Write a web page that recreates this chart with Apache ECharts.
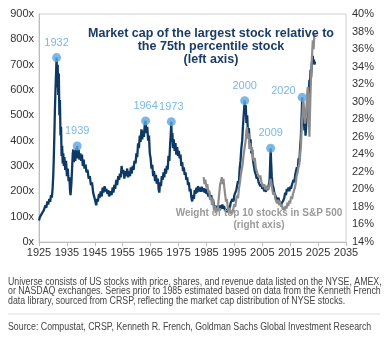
<!DOCTYPE html>
<html>
<head>
<meta charset="utf-8">
<script src="https://cdn.jsdelivr.net/npm/echarts@6/dist/echarts.min.js"></script>
<style>
  html, body { margin: 0; padding: 0; background: #fff; }
  #chart { width: 385px; height: 337px; }
</style>
</head>
<body>
<div id="chart"></div>
<script>
// market cap of largest stock / 75th percentile stock (left axis, x)
const capRatio = [
  [1925.0, 85], [1925.3, 98], [1925.6, 92], [1926.0, 112], [1926.3, 105], [1926.7, 125],
  [1927.0, 118], [1927.3, 145], [1927.6, 135], [1928.0, 160], [1928.3, 148], [1928.7, 170],
  [1929.0, 158], [1929.3, 185], [1929.6, 175], [1929.9, 215], [1930.1, 260], [1930.3, 330],
  [1930.5, 420], [1930.7, 520], [1930.9, 600], [1931.1, 660], [1931.3, 728], [1931.5, 610],
  [1931.7, 700], [1931.9, 580], [1932.1, 665], [1932.3, 500], [1932.5, 560], [1932.7, 420],
  [1932.9, 455], [1933.1, 340], [1933.3, 380], [1933.5, 310], [1933.7, 350], [1933.9, 300],
  [1934.1, 335], [1934.4, 285], [1934.7, 320], [1935.0, 260], [1935.3, 290], [1935.6, 240],
  [1935.9, 255], [1936.1, 205], [1936.3, 185], [1936.6, 230], [1936.9, 300], [1937.1, 350],
  [1937.3, 365], [1937.5, 315], [1937.8, 360], [1938.0, 320], [1938.3, 370], [1938.5, 340],
  [1938.7, 379], [1938.9, 330], [1939.2, 365], [1939.5, 325], [1939.8, 350], [1940.1, 320],
  [1940.4, 345], [1940.7, 300], [1941.0, 325], [1941.3, 290], [1941.7, 305], [1942.0, 275],
  [1942.4, 285], [1942.8, 250], [1943.2, 260], [1943.6, 225], [1944.0, 235], [1944.4, 195],
  [1944.8, 200], [1945.1, 165], [1945.5, 145], [1945.8, 170], [1946.1, 160], [1946.5, 190],
  [1946.8, 175], [1947.1, 200], [1947.5, 180], [1947.8, 215], [1948.1, 195], [1948.5, 220],
  [1948.8, 200], [1949.1, 210], [1949.5, 190], [1949.8, 205], [1950.1, 180], [1950.4, 175],
  [1950.7, 200], [1951.0, 185], [1951.4, 215], [1951.7, 195], [1952.0, 225], [1952.3, 210],
  [1952.7, 245], [1953.0, 225], [1953.4, 260], [1953.7, 245], [1954.0, 270], [1954.3, 255],
  [1954.6, 300], [1954.9, 270], [1955.2, 285], [1955.6, 250], [1955.9, 280], [1956.2, 260],
  [1956.6, 290], [1956.9, 255], [1957.2, 280], [1957.6, 260], [1957.9, 295], [1958.2, 270],
  [1958.6, 300], [1958.9, 285], [1959.2, 320], [1959.6, 310], [1959.9, 350], [1960.2, 335],
  [1960.5, 390], [1960.8, 370], [1961.1, 420], [1961.4, 395], [1961.7, 445], [1962.0, 405],
  [1962.3, 440], [1962.6, 415], [1962.9, 465], [1963.2, 478], [1963.5, 430], [1963.8, 455],
  [1964.1, 400], [1964.4, 420], [1964.7, 350], [1965.0, 330], [1965.3, 290], [1965.6, 305],
  [1965.9, 260], [1966.2, 280], [1966.6, 240], [1966.9, 265], [1967.2, 230], [1967.6, 250],
  [1967.9, 205], [1968.1, 195], [1968.4, 235], [1968.7, 220], [1969.0, 260], [1969.3, 245],
  [1969.6, 275], [1969.9, 255], [1970.2, 290], [1970.5, 270], [1970.8, 300], [1971.1, 285],
  [1971.4, 340], [1971.7, 320], [1972.0, 390], [1972.2, 420], [1972.4, 475], [1972.6, 395],
  [1972.8, 430], [1973.0, 370], [1973.3, 405], [1973.6, 360], [1973.9, 390], [1974.2, 345],
  [1974.5, 375], [1974.8, 340], [1975.1, 360], [1975.4, 330], [1975.7, 345], [1976.0, 300],
  [1976.3, 315], [1976.6, 280], [1976.9, 295], [1977.2, 265], [1977.5, 275], [1977.8, 245],
  [1978.1, 255], [1978.4, 225], [1978.7, 235], [1979.0, 200], [1979.3, 210], [1979.6, 175],
  [1979.9, 160], [1980.2, 185], [1980.5, 170], [1980.8, 205], [1981.1, 190], [1981.4, 215],
  [1981.7, 195], [1982.0, 220], [1982.3, 200], [1982.7, 215], [1983.0, 198], [1983.3, 218],
  [1983.7, 200], [1984.0, 212], [1984.3, 195], [1984.7, 210], [1985.0, 190], [1985.3, 200],
  [1985.7, 180], [1986.0, 195], [1986.3, 172], [1986.7, 185], [1987.0, 160], [1987.3, 170],
  [1987.7, 145], [1988.0, 150], [1988.3, 132], [1988.7, 142], [1989.0, 122], [1989.3, 138],
  [1989.7, 128], [1990.0, 145], [1990.3, 130], [1990.7, 148], [1991.0, 132], [1991.3, 142],
  [1991.7, 122], [1992.0, 130], [1992.3, 118], [1992.7, 128], [1993.0, 140], [1993.3, 132],
  [1993.7, 155], [1994.0, 148], [1994.3, 170], [1994.7, 160], [1995.0, 185], [1995.3, 178],
  [1995.7, 205], [1996.0, 200], [1996.3, 240], [1996.6, 230], [1996.9, 290], [1997.2, 320],
  [1997.5, 370], [1997.8, 400], [1998.1, 460], [1998.4, 510], [1998.7, 558], [1998.9, 520],
  [1999.1, 540], [1999.3, 470], [1999.6, 500], [1999.9, 420], [2000.2, 450], [2000.5, 390],
  [2000.8, 405], [2001.1, 350], [2001.4, 365], [2001.7, 320], [2002.0, 300], [2002.3, 280],
  [2002.7, 265], [2003.0, 250], [2003.3, 258], [2003.7, 235], [2004.0, 240], [2004.3, 220],
  [2004.7, 228], [2005.0, 210], [2005.3, 218], [2005.7, 200], [2006.0, 210], [2006.3, 198],
  [2006.7, 218], [2007.0, 205], [2007.3, 225], [2007.6, 240], [2007.8, 300], [2008.0, 370],
  [2008.2, 310], [2008.4, 260], [2008.7, 225], [2009.0, 215], [2009.3, 195], [2009.6, 200],
  [2009.9, 178], [2010.2, 185], [2010.5, 165], [2010.8, 175], [2011.1, 158], [2011.4, 165],
  [2011.7, 148], [2012.0, 152], [2012.3, 145], [2012.6, 165], [2012.9, 175], [2013.2, 195],
  [2013.5, 185], [2013.8, 210], [2014.1, 200], [2014.4, 215], [2014.7, 200], [2015.0, 218],
  [2015.3, 210], [2015.6, 225], [2015.9, 220], [2016.2, 245], [2016.5, 235], [2016.8, 265],
  [2017.1, 260], [2017.4, 295], [2017.7, 285], [2018.0, 330], [2018.3, 320], [2018.6, 380],
  [2018.8, 410], [2019.0, 470], [2019.2, 530], [2019.3, 571], [2019.5, 500], [2019.7, 460],
  [2019.9, 490], [2020.1, 440], [2020.3, 470], [2020.5, 420], [2020.7, 450], [2020.9, 500],
  [2021.1, 530], [2021.3, 505], [2021.5, 570], [2021.7, 600], [2021.9, 640], [2022.1, 615],
  [2022.3, 680], [2022.5, 650], [2022.7, 700], [2022.9, 720], [2023.1, 735], [2023.3, 705],
  [2023.5, 720], [2023.7, 700], [2023.9, 712]
]

// weight of top 10 stocks in S&P 500 (right axis, %)
const top10Weight = [
  [1984.0, 21.4], [1984.3, 20.6], [1984.6, 21.1], [1985.0, 20.2], [1985.3, 20.6], [1985.7, 19.6],
  [1986.0, 19.9], [1986.3, 18.8], [1986.7, 19.1], [1987.0, 18.2], [1987.3, 18.9], [1987.7, 17.6],
  [1988.0, 18.1], [1988.3, 17.3], [1988.7, 17.9], [1989.0, 17.5], [1989.3, 18.6], [1989.6, 19.6],
  [1989.9, 20.6], [1990.2, 20.9], [1990.5, 21.4], [1990.8, 20.6], [1991.1, 21.2], [1991.4, 20.2],
  [1991.7, 19.4], [1992.0, 18.6], [1992.3, 18.9], [1992.7, 17.8], [1993.0, 17.4], [1993.3, 17.9],
  [1993.7, 17.2], [1994.0, 17.6], [1994.3, 17.3], [1994.7, 17.9], [1995.0, 18.3], [1995.3, 18.0],
  [1995.7, 18.9], [1996.0, 19.3], [1996.3, 19.0], [1996.7, 20.2], [1997.0, 20.8], [1997.3, 21.6],
  [1997.7, 22.4], [1998.0, 22.9], [1998.3, 23.9], [1998.7, 24.8], [1999.0, 25.4], [1999.3, 26.6],
  [1999.5, 27.1], [1999.8, 25.8], [2000.1, 26.4], [2000.4, 24.6], [2000.7, 25.3], [2001.0, 24.4],
  [2001.3, 24.8], [2001.7, 23.6], [2002.0, 23.2], [2002.3, 23.6], [2002.7, 22.4], [2003.0, 22.6],
  [2003.3, 21.8], [2003.7, 22.0], [2004.0, 21.3], [2004.3, 21.6], [2004.7, 20.8], [2005.0, 21.0],
  [2005.3, 20.3], [2005.7, 20.6], [2006.0, 20.0], [2006.3, 20.4], [2006.7, 19.9], [2007.0, 20.3],
  [2007.3, 20.0], [2007.7, 20.7], [2008.0, 21.2], [2008.3, 20.6], [2008.7, 19.8], [2009.0, 19.4],
  [2009.3, 19.7], [2009.7, 18.9], [2010.0, 19.1], [2010.3, 18.4], [2010.7, 18.8], [2011.0, 18.2],
  [2011.3, 18.7], [2011.7, 18.0], [2012.0, 18.3], [2012.3, 17.7], [2012.7, 18.0], [2013.0, 17.6],
  [2013.3, 18.1], [2013.7, 17.8], [2014.0, 18.5], [2014.3, 18.1], [2014.7, 18.7], [2015.0, 18.4],
  [2015.3, 19.2], [2015.7, 18.9], [2016.0, 19.5], [2016.3, 19.3], [2016.7, 20.2], [2017.0, 20.7],
  [2017.3, 21.5], [2017.7, 22.0], [2018.0, 22.6], [2018.3, 22.9], [2018.6, 24.0], [2018.9, 25.2],
  [2019.1, 27.0], [2019.4, 28.5], [2019.7, 30.2], [2020.0, 29.2], [2020.3, 27.5], [2020.7, 28.4],
  [2021.0, 30.5], [2021.3, 31.7], [2021.6, 29.0], [2021.9, 26.0], [2022.2, 30.0], [2022.5, 33.2],
  [2022.8, 35.0], [2023.1, 37.0], [2023.4, 36.0], [2023.7, 37.8]
]

// labelled peaks on the left-axis series
const peakYears = ['1932', '1939', '1964', '1973', '2000', '2009', '2020']
const peakPoints = [
  [1931.3, 728], [1938.7, 379], [1963.2, 478], [1972.4, 475], [1998.7, 558], [2008.0, 370], [2019.3, 571]
]

const titleLines = ['Market cap of the largest stock relative to', 'the 75th percentile stock', '(left axis)']
const weightLines = ['Weight of top 10 stocks in S&P 500', '(right axis)']
const noteLines = [
  'Universe consists of US stocks with price, shares, and revenue data listed on the NYSE, AMEX,',
  'or NASDAQ exchanges. Series prior to 1985 estimated based on data from the Kenneth French',
  'data library, sourced from CRSP, reflecting the market cap distribution of NYSE stocks.'
]
const sourceLine = 'Source: Compustat, CRSP, Kenneth R. French, Goldman Sachs Global Investment Research'

const navy = '#0D3964'
const grey = '#8C8C8C'
const peakBlue = '#5AA6E2'
const sans = 'Arial, Liberation Sans, sans-serif'
const axisText = { color: '#333', fontSize: 11, fontFamily: sans }

const chart = echarts.init(document.getElementById('chart'), null, { renderer: 'canvas' })

const graphic = []
titleLines.forEach((t, i) => {
  graphic.push({
    type: 'text',
    x: 211,
    y: 34 + i * 13,
    style: {
      text: t,
      fill: '#1B3C66',
      font: 'bold 12.5px ' + sans,
      textAlign: 'center',
      textVerticalAlign: 'middle'
    },
    z: 10
  })
})
weightLines.forEach((t, i) => {
  graphic.push({
    type: 'text',
    x: 259,
    y: 213 + i * 12.5,
    style: {
      text: t,
      fill: '#9A9A9A',
      font: 'bold 10px ' + sans,
      textAlign: 'center',
      textVerticalAlign: 'middle'
    },
    z: 10
  })
})
// condensed footnote text
noteLines.forEach((t, i) => {
  graphic.push({
    type: 'text',
    x: 8,
    y: 282 + i * 9.6,
    scaleX: 0.88,
    style: { text: t, fill: '#444', font: '10px ' + sans, textVerticalAlign: 'middle' }
  })
})
graphic.push({
  type: 'line',
  shape: { x1: 8, y1: 314, x2: 380, y2: 314 },
  style: { stroke: '#DDDDDD', lineWidth: 1 }
})
graphic.push({
  type: 'text',
  x: 8,
  y: 327,
  scaleX: 0.88,
  style: { text: sourceLine, fill: '#444', font: '10px ' + sans, textVerticalAlign: 'middle' }
})

chart.setOption({
  animation: false,
  grid: {
    left: 39,
    right: 39,
    top: 14,
    bottom: 95,
    show: true,
    borderColor: '#D0D0D0',
    borderWidth: 1
  },
  xAxis: {
    type: 'value',
    min: 1925,
    max: 2035,
    interval: 10,
    axisLine: { show: true, lineStyle: { color: '#BBBBBB' } },
    axisTick: { show: true, length: 4, lineStyle: { color: '#BBBBBB' } },
    splitLine: { show: false },
    axisLabel: Object.assign({ margin: 5, formatter: v => String(v) }, axisText)
  },
  yAxis: [
    {
      type: 'value',
      min: 0,
      max: 900,
      interval: 100,
      axisLine: { show: true, lineStyle: { color: '#BBBBBB' } },
      axisTick: { show: false },
      splitLine: { show: false },
      axisLabel: Object.assign({ margin: 5, formatter: v => v + 'x' }, axisText)
    },
    {
      type: 'value',
      min: 14,
      max: 40,
      interval: 2,
      axisLine: { show: false },
      axisTick: { show: false },
      splitLine: { show: false },
      axisLabel: Object.assign({ margin: 6, formatter: v => v + '%' }, axisText)
    }
  ],
  series: [
    {
      name: 'Largest vs 75th percentile',
      type: 'line',
      yAxisIndex: 0,
      data: capRatio,
      symbol: 'none',
      lineStyle: { color: navy, width: 2.3 },
      z: 2
    },
    {
      name: 'Top 10 weight',
      type: 'line',
      yAxisIndex: 1,
      data: top10Weight,
      symbol: 'none',
      lineStyle: { color: grey, width: 2.2 },
      z: 3
    },
    {
      name: 'Peaks',
      type: 'scatter',
      yAxisIndex: 0,
      data: peakPoints.map((p, i) => ({
        value: p,
        label: i === 6
          ? { position: 'left', offset: [0, -6], distance: 2 }
          : { position: 'top', distance: 5 }
      })),
      symbolSize: 9,
      itemStyle: { color: peakBlue },
      label: {
        show: true,
        color: peakBlue,
        fontSize: 11,
        fontFamily: sans,
        formatter: p => peakYears[p.dataIndex]
      },
      z: 4
    }
  ],
  graphic: graphic
})
</script>
</body>
</html>
